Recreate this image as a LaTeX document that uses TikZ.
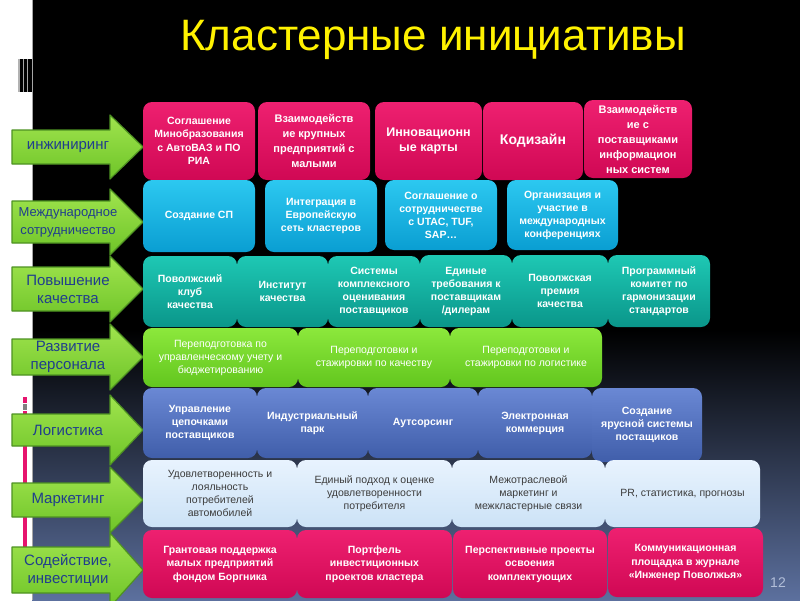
\documentclass[tikz,border=0pt]{standalone}
\usepackage{fontspec}
\setmainfont{Liberation Sans}

\newcommand\tile[7]{\node[#6,minimum width={#4-#2},minimum height={#5-#3}] (#1) at ({(#2+#4)/2},{(#3+#5)/2}) {#7};}
\newcommand\pointer[5]{\path[pointer] (12,#2-#3) -- (110,#2-#3) -- (110,#2-#4) -- (143,#2) -- (110,#2+#4) -- (110,#2+#3) -- (12,#2+#3) -- cycle;
\node[pointerlabel] (#1) at (68,#2) {#5};}

\begin{document}
\begin{tikzpicture}[x=1pt,y=-1pt,
  tile/.style={rounded corners=9pt,inner sep=0pt,align=center,font=\fontsize{10.5}{13}\selectfont},
  rose/.style={tile,top color=roseTop,bottom color=roseBot,text=white,font=\bfseries\fontsize{10.5}{13.5}\selectfont},
  sky/.style={tile,top color=skyTop,bottom color=skyBot,text=white,font=\bfseries\fontsize{10.5}{13}\selectfont},
  sea/.style={tile,top color=seaTop,bottom color=seaBot,text=white,font=\bfseries\fontsize{10.5}{13}\selectfont},
  grass/.style={tile,top color=grassTop,bottom color=grassBot,text=white},
  navy/.style={tile,top color=navyTop,bottom color=navyBot,text=white,font=\bfseries\fontsize{10.5}{13}\selectfont},
  ice/.style={tile,top color=iceTop,bottom color=iceBot,text=iceText},
  pointer/.style={draw=arrowEdge,line width=1.2pt,line join=round,top color=arrowTop,bottom color=arrowBot},
  pointerlabel/.style={align=center,text=labelBlue,inner sep=0pt,font=\fontsize{15}{18}\selectfont}]
\definecolor{roseTop}{RGB}{238,32,112}
\definecolor{roseBot}{RGB}{208,8,84}
\definecolor{skyTop}{RGB}{44,200,240}
\definecolor{skyBot}{RGB}{10,158,210}
\definecolor{seaTop}{RGB}{30,200,180}
\definecolor{seaBot}{RGB}{10,150,138}
\definecolor{grassTop}{RGB}{140,232,60}
\definecolor{grassBot}{RGB}{98,198,30}
\definecolor{navyTop}{RGB}{106,136,212}
\definecolor{navyBot}{RGB}{64,94,170}
\definecolor{iceTop}{RGB}{232,243,254}
\definecolor{iceBot}{RGB}{204,226,246}
\definecolor{iceText}{RGB}{60,60,60}
\definecolor{arrowTop}{RGB}{160,228,78}
\definecolor{arrowBot}{RGB}{110,196,40}
\definecolor{arrowEdge}{RGB}{78,146,34}
\definecolor{labelBlue}{RGB}{32,62,140}
\definecolor{slate}{RGB}{92,112,158}
\definecolor{pinkline}{RGB}{230,20,110}
\definecolor{pageGray}{RGB}{178,190,216}

\path[use as bounding box,fill=white] (0,0) rectangle (800,600);
\fill[black] (32,0) rectangle (800,330);
\shade[top color=black,bottom color=slate] (32,330) rectangle (800,600);
\draw[gray!70,line width=1pt] (32,0) -- (32,600);

\fill[black] (18,59) rectangle (32,92);
\fill[gray!60] (18,59) rectangle (19.5,92);
\fill[gray!70] (22.5,59) rectangle (24,92);
\fill[gray!70] (26.5,59) rectangle (28,92);

\fill[pinkline] (23,397) rectangle (27,403);
\fill[gray] (23,404) rectangle (27,410);
\fill[pinkline] (23,411) rectangle (27,589);

\node[anchor=base,text=yellow,inner sep=0pt,font=\fontsize{44}{50}\selectfont] (heading) at (433,50) {Кластерные инициативы};

\pointer{engineering}{147}{17}{32}{инжиниринг}
\pointer{cooperation}{222}{21}{33}{\fontsize{13}{16}\selectfont Международное\\\fontsize{13}{16}\selectfont сотрудничество}
\pointer{quality}{289}{22}{33}{Повышение\\качества}
\pointer{staff}{357}{18}{33}{Развитие\\персонала}
\pointer{logistics}{430}{16}{35}{Логистика}
\pointer{marketing}{500}{17}{33}{Маркетинг}
\pointer{invest}{570}{23}{37}{Содействие,\\инвестиции}

\tile{minobr}{143}{102}{255}{180}{rose}{Соглашение\\Минобразования\\с АвтоВАЗ и ПО\\РИА}
\tile{bigsmall}{258}{102}{370}{180}{rose,font=\bfseries\fontsize{11}{15}\selectfont}{Взаимодейств\\ие крупных\\предприятий с\\малыми}
\tile{innomaps}{375}{102}{482}{180}{rose,font=\bfseries\fontsize{12.5}{15}\selectfont}{Инновационн\\ые карты}
\tile{codesign}{483}{102}{583}{180}{rose,font=\bfseries\fontsize{14}{17}\selectfont}{Кодизайн}
\tile{infosys}{584}{100}{692}{178}{rose,font=\bfseries\fontsize{11}{15}\selectfont}{Взаимодейств\\ие с\\поставщиками\\информацион\\ных систем}

\tile{jointvent}{143}{180}{255}{252}{sky}{Создание СП}
\tile{eunet}{265}{180}{377}{252}{sky}{Интеграция в\\Европейскую\\сеть кластеров}
\tile{utac}{385}{180}{497}{250}{sky}{Соглашение о\\сотрудничестве\\с UTAC, TUF,\\SAP…}
\tile{confs}{507}{180}{618}{250}{sky}{Организация и\\участие в\\международных\\конференциях}

\tile{club}{143}{256}{237}{327}{sea}{Поволжский\\клуб\\качества}
\tile{institute}{237}{256}{328}{327}{sea}{Институт\\качества}
\tile{rating}{328}{256}{420}{327}{sea}{Системы\\комплексного\\оценивания\\поставщиков}
\tile{demands}{420}{255}{512}{327}{sea}{Единые\\требования к\\поставщикам\\/дилерам}
\tile{award}{512}{255}{608}{327}{sea}{Поволжская\\премия\\качества}
\tile{committee}{608}{255}{710}{327}{sea}{Программный\\комитет по\\гармонизации\\стандартов}

\tile{retrainA}{143}{328}{298}{387}{grass}{Переподготовка по\\управленческому учету и\\бюджетированию}
\tile{retrainB}{298}{328}{450}{387}{grass}{Переподготовки и\\стажировки по качеству}
\tile{retrainC}{450}{328}{602}{387}{grass}{Переподготовки и\\стажировки по логистике}

\tile{chains}{143}{388}{257}{458}{navy}{Управление\\цепочками\\поставщиков}
\tile{park}{257}{388}{368}{458}{navy}{Индустриальный\\парк}
\tile{outsource}{368}{388}{478}{458}{navy}{Аутсорсинг}
\tile{ecommerce}{478}{388}{592}{458}{navy}{Электронная\\коммерция}
\tile{tiers}{592}{388}{702}{462}{navy}{Создание\\ярусной системы\\постащиков}

\tile{loyalty}{143}{460}{297}{527}{ice}{Удовлетворенность и\\лояльность\\потребителей\\автомобилей}
\tile{survey}{297}{460}{452}{527}{ice}{Единый подход к оценке\\удовлетворенности\\потребителя}
\tile{crossmkt}{452}{460}{605}{527}{ice}{Межотраслевой\\маркетинг и\\межкластерные связи}
\tile{pr}{605}{460}{760}{527}{ice}{PR, статистика, прогнозы}

\tile{grants}{143}{530}{297}{598}{rose}{Грантовая поддержка\\малых предприятий\\фондом Боргника}
\tile{portfolio}{297}{530}{452}{598}{rose}{Портфель\\инвестиционных\\проектов кластера}
\tile{prospects}{453}{530}{607}{598}{rose}{Перспективные проекты\\освоения\\комплектующих}
\tile{journal}{608}{528}{763}{597}{rose}{Коммуникационная\\площадка в журнале\\«Инженер Поволжья»}

\node[text=pageGray,inner sep=0pt,font=\fontsize{14}{16}\selectfont] (pageno) at (778,583) {12};
\end{tikzpicture}
\end{document}
